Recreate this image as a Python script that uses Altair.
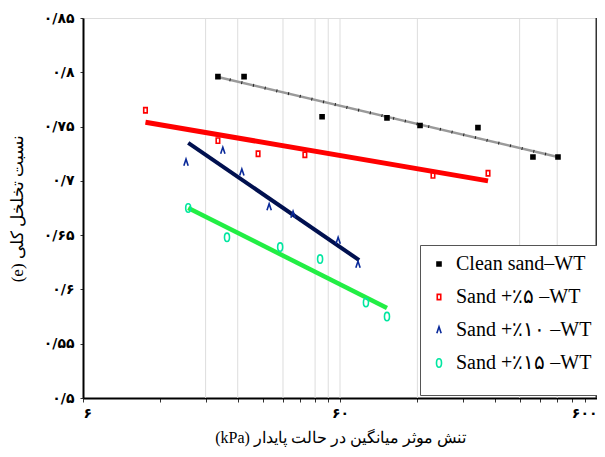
import altair as alt
import pandas as pd

# ---- data ----
series_names = ["Clean sand–WT", "Sand +٪۵ –WT", "Sand +٪۱۰ –WT", "Sand +٪۱۵ –WT"]

clean_x = [20.1, 25.4, 51.1, 91.4, 122.9, 206.5, 338, 423]
clean_y = [0.796, 0.796, 0.759, 0.758, 0.751, 0.749, 0.722, 0.722]
sand5_x = [10.5, 20.1, 28.8, 43.8, 138, 226]
sand5_y = [0.765, 0.737, 0.725, 0.724, 0.705, 0.707]
sand10_x = [15.1, 21.0, 24.9, 31.8, 39.4, 59.0, 70.5]
sand10_y = [0.717, 0.728, 0.708, 0.676, 0.669, 0.645, 0.623]
sand15_x = [15.4, 21.8, 35.1, 50.2, 75.7, 91.4]
sand15_y = [0.675, 0.648, 0.639, 0.628, 0.588, 0.575]

# trend lines (end points)
fit_clean_x = [20.1, 423]
fit_clean_y = [0.7957, 0.722]
fit_sand5_x = [10.5, 226]
fit_sand5_y = [0.754, 0.700]
fit_sand10_x = [15.4, 71.2]
fit_sand10_y = [0.735, 0.627]
fit_sand15_x = [15.4, 91.4]
fit_sand15_y = [0.675, 0.583]

y_ticks = [0.5, 0.55, 0.6, 0.65, 0.7, 0.75, 0.8, 0.85]
y_labels = ["۰/۵", "۰/۵۵", "۰/۶", "۰/۶۵", "۰/۷", "۰/۷۵", "۰/۸", "۰/۸۵"]
x_major = [6, 60, 600]
x_labels = ["۶", "۶۰", "۶۰۰"]
x_minor = [12, 18, 24, 30, 36, 42, 48, 54, 120, 180, 240, 300, 360, 420, 480, 540]
grid_x = [18, 24, 36, 48, 54, 60, 120, 300, 420]

x_title = "(kPa) تنش موثر میانگین در حالت پایدار"
y_title = "(e) نسبت تخلخل کلی"

# ---- tables ----
rows = []
for name, xs, ys in zip(series_names, [clean_x, sand5_x, sand10_x, sand15_x],
                        [clean_y, sand5_y, sand10_y, sand15_y]):
    for a, b in zip(xs, ys):
        rows.append({"series": name, "x": a, "y": b})
pts = pd.DataFrame(rows)

def fit_df(xs, ys):
    return pd.DataFrame({"x": xs, "y": ys})

def nested(values, labels, default):
    expr = default
    for v, l in reversed(list(zip(values, labels))):
        expr = f"abs(datum.value - {v}) < 1e-6 ? '{l}' : ({expr})"
    return expr

x_scale = alt.Scale(type="log", domain=[6, 600], nice=False)
y_scale = alt.Scale(domain=[0.5, 0.85], nice=False, zero=False)

label_font = "DejaVu Sans"
serif = "Times New Roman, Liberation Serif, DejaVu Serif, serif"
title_font = serif

x_axis = alt.Axis(values=x_major + x_minor, labelExpr=nested(x_major, x_labels, "''"),
                  labelOverlap=False, grid=False, domainColor="black", domainWidth=2,
                  tickColor="#333", tickSize=4, labelFont=label_font, labelFontSize=14,
                  labelFontWeight="bold",
                  labelColor="black", labelPadding=4, title=x_title, titleFont=title_font,
                  titleFontSize=16, titleFontWeight="normal", titleColor="black", titlePadding=9)
y_axis = alt.Axis(values=y_ticks, labelExpr=nested(y_ticks, y_labels, "''"),
                  grid=False, domainColor="black", domainWidth=2, tickColor="#333", tickSize=3,
                  labelFont=label_font, labelFontSize=14, labelFontWeight="bold",
                  labelColor="black", labelPadding=6,
                  title=y_title, titleFont=title_font, titleFontSize=17, titleFontWeight="normal",
                  titleColor="black", titlePadding=17)

grid = alt.Chart(pd.DataFrame({"x": grid_x})).mark_rule(color="#dddddd", strokeWidth=1).encode(
    x=alt.X("x:Q", scale=x_scale, axis=x_axis)
)

right_border = alt.Chart(pd.DataFrame({"x": [600]})).mark_rule(color="#333333", strokeWidth=3).encode(
    x=alt.X("x:Q", scale=x_scale)
)

def line(xs, ys, color, width, dash=None):
    kw = dict(color=color, strokeWidth=width, clip=True)
    if dash:
        kw["strokeDash"] = dash
    return alt.Chart(fit_df(xs, ys)).mark_line(**kw).encode(
        x=alt.X("x:Q", scale=x_scale),
        y=alt.Y("y:Q", scale=y_scale, axis=y_axis),
    )

lines = [
    line(fit_clean_x, fit_clean_y, "#9a9a9a", 2.5),
    line(fit_clean_x, fit_clean_y, "#222222", 3, [1, 11]),
    line(fit_sand5_x, fit_sand5_y, "#ff0000", 5),
    line(fit_sand10_x, fit_sand10_y, "#00104f", 4),
    line(fit_sand15_x, fit_sand15_y, "#22ee44", 4.5),
]

shapes = [
    "square",
    "M-0.6,-0.9H0.6V0.9H-0.6Z",
    "M-0.6,0.9L0,-0.9L0.6,0.9",
    "M0,-1C0.8,-1 0.8,1 0,1C-0.8,1 -0.8,-1 0,-1Z",
]
strokes = ["black", "#ff0000", "#0a2a9a", "#00e6a0"]
fills = ["black", "transparent", "transparent", "transparent"]
sizes = [16, 70, 90, 64]

legend = alt.Legend(title=" ", titleOrient="bottom", titleFontSize=12, titlePadding=2,
                    orient="none", legendX=337, legendY=227,
                    fillColor="white", strokeColor="#555555", padding=9,
                    labelFont=serif, labelFontSize=20, labelColor="black",
                    rowPadding=13, symbolStrokeWidth=1.6, labelOffset=7)

points = alt.Chart(pts).mark_point(filled=True, strokeWidth=1.6, opacity=1).encode(
    x=alt.X("x:Q", scale=x_scale),
    y=alt.Y("y:Q", scale=y_scale),
    shape=alt.Shape("series:N", scale=alt.Scale(domain=series_names, range=shapes), legend=legend),
    stroke=alt.Stroke("series:N", scale=alt.Scale(domain=series_names, range=strokes), legend=legend),
    fill=alt.Fill("series:N", scale=alt.Scale(domain=series_names, range=fills), legend=legend),
    size=alt.Size("series:N", scale=alt.Scale(domain=series_names, range=sizes), legend=legend),
)

chart = alt.layer(grid, right_border, *lines, points).properties(
    width=514, height=380,
    padding={"left": 75, "top": 10, "right": 0, "bottom": 51},
    autosize=alt.AutoSizeParams(type="none"),
).configure_view(stroke=None).configure(background="white")

chart.save("out.html", embed_options={"renderer": "svg", "actions": False})
